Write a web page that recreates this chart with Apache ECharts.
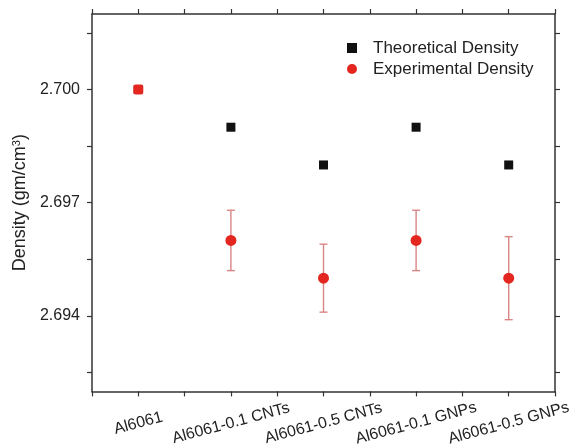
<!DOCTYPE html>
<html>
<head>
<meta charset="utf-8">
<script src="https://cdn.jsdelivr.net/npm/echarts@6/dist/echarts.min.js"></script>
<style>
  html, body { margin: 0; padding: 0; background: #fff; }
  #chart { width: 578px; height: 448px; }
</style>
</head>
<body>
<div id="chart"></div>
<script>
// categories and values
const categories = ["Al6061", "Al6061-0.1 CNTs", "Al6061-0.5 CNTs", "Al6061-0.1 GNPs", "Al6061-0.5 GNPs"];
const theoretical = [2.700, 2.699, 2.698, 2.699, 2.698];
const experimental = [2.700, 2.696, 2.695, 2.696, 2.695];
const expError = [0, 0.0008, 0.0009, 0.0008, 0.0011];

// y axis ticks (major + minor) and labelled values
const yTicks = [2.6925, 2.694, 2.6955, 2.697, 2.6985, 2.700, 2.7015];
const yLabels = [2.694, 2.697, 2.700];

const axisColor = "#333";
const font = "Liberation Sans, Arial, sans-serif";

function buildTheoretical() {
  let out = [];
  for (let i = 0; i < theoretical.length; i++) {
    out.push([i, theoretical[i]]);
  }
  return out;
}

function buildExperimental() {
  let out = [];
  for (let i = 0; i < experimental.length; i++) {
    let item = { value: [i, experimental[i]] };
    // where both points sit on top of each other the figure shows a red square
    if (experimental[i] === theoretical[i]) {
      item.symbol = "roundRect";
      item.symbolSize = 10;
    }
    out.push(item);
  }
  return out;
}

function buildErrors() {
  let out = [];
  for (let i = 0; i < experimental.length; i++) {
    if (expError[i] > 0) {
      out.push([i, experimental[i] - expError[i], experimental[i] + expError[i]]);
    }
  }
  return out;
}

function renderErrorBar(params, api) {
  let x = api.value(0);
  let lo = api.coord([x, api.value(1)]);
  let hi = api.coord([x, api.value(2)]);
  let cap = 4;
  let style = { stroke: "#d98585", lineWidth: 1.4 };
  return {
    type: "group",
    children: [
      { type: "line", shape: { x1: lo[0], y1: lo[1], x2: hi[0], y2: hi[1] }, style: style },
      { type: "line", shape: { x1: lo[0] - cap, y1: lo[1], x2: lo[0] + cap, y2: lo[1] }, style: style },
      { type: "line", shape: { x1: hi[0] - cap, y1: hi[1], x2: hi[0] + cap, y2: hi[1] }, style: style },
    ],
  };
}

var dom = document.getElementById("chart");
var myChart = echarts.init(dom, null, { renderer: "canvas" });

var xAxisBase = {
  type: "value",
  min: -0.5,
  max: 4.5,
  interval: 0.5,
  splitLine: { show: false },
  axisLine: { onZero: false, lineStyle: { color: axisColor, width: 1.5 } },
  axisTick: { inside: false, length: 5, lineStyle: { color: axisColor, width: 1.2 } },
};

var yAxisBase = {
  type: "value",
  min: 2.692,
  max: 2.702,
  splitLine: { show: false },
  axisLine: { show: true, onZero: false, lineStyle: { color: axisColor, width: 1.5 } },
  axisTick: { show: true, inside: false, length: 5, customValues: yTicks, lineStyle: { color: axisColor, width: 1.2 } },
};

var option = {
  animation: false,
  backgroundColor: "#fff",
  grid: { left: 92, right: 23, top: 14, bottom: 56 },
  legend: {
    orient: "vertical",
    left: 342,
    top: 34,
    itemWidth: 10,
    itemHeight: 10,
    itemGap: 3,
    textStyle: { fontFamily: font, fontSize: 17, color: "#222", lineHeight: 18, padding: [0, 0, 0, 11] },
    data: [
      { name: "Theoretical Density", icon: "rect" },
      { name: "Experimental Density", icon: "circle" },
    ],
  },
  xAxis: [
    Object.assign({}, xAxisBase, {
      position: "bottom",
      axisLabel: {
        customValues: [0, 1, 2, 3, 4],
        formatter: function (v) { return categories[Math.round(v)]; },
        rotate: 15,
        align: "center",
        verticalAlign: "middle",
        margin: 32,
        fontFamily: font,
        fontSize: 16,
        color: "#222",
      },
    }),
    Object.assign({}, xAxisBase, { position: "top", axisLabel: { show: false } }),
  ],
  yAxis: [
    Object.assign({}, yAxisBase, {
      position: "left",
      name: "Density (gm/cm{sup|3})",
      nameLocation: "middle",
      nameRotate: 90,
      nameGap: 61,
      nameTextStyle: {
        fontFamily: font,
        fontSize: 18,
        color: "#222",
        rich: { sup: { fontFamily: font, fontSize: 11, color: "#222", verticalAlign: "top", lineHeight: 10 } },
      },
      axisLabel: {
        customValues: yLabels,
        formatter: function (v) { return v.toFixed(3); },
        margin: 12,
        fontFamily: font,
        fontSize: 16,
        color: "#222",
      },
    }),
    Object.assign({}, yAxisBase, { position: "right", axisLabel: { show: false } }),
  ],
  series: [
    {
      name: "Theoretical Density",
      type: "scatter",
      symbol: "rect",
      symbolSize: 9,
      itemStyle: { color: "#111", opacity: 1 },
      data: buildTheoretical(),
      z: 2,
    },
    {
      name: "error",
      type: "custom",
      renderItem: renderErrorBar,
      data: buildErrors(),
      z: 3,
    },
    {
      name: "Experimental Density",
      type: "scatter",
      symbol: "circle",
      symbolSize: 11,
      itemStyle: { color: "#e3261f", opacity: 1 },
      data: buildExperimental(),
      z: 4,
    },
  ],
};

myChart.setOption(option);
window.addEventListener("resize", myChart.resize);
</script>
</body>
</html>
